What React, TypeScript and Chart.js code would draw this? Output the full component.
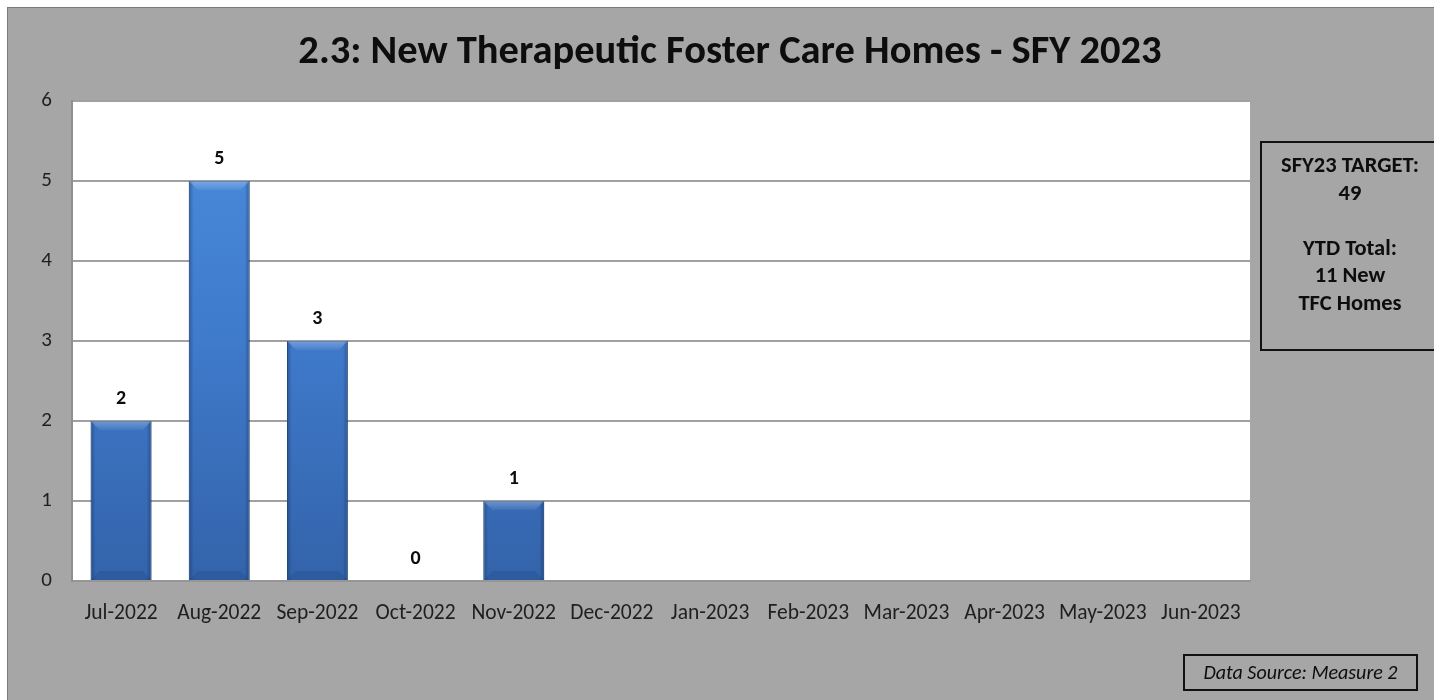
import React, { useEffect, useRef } from "react";
import { Chart, registerables } from "chart.js";

Chart.register(...registerables);

const categories = [
  "Jul-2022", "Aug-2022", "Sep-2022", "Oct-2022", "Nov-2022", "Dec-2022",
  "Jan-2023", "Feb-2023", "Mar-2023", "Apr-2023", "May-2023", "Jun-2023",
];
const newHomes: (number | null)[] = [2, 5, 3, 0, 1, null, null, null, null, null, null, null];
const yTicks = [0, 1, 2, 3, 4, 5, 6];
const titleText = "2.3: New Therapeutic Foster Care Homes - SFY 2023";
const targetLines = ["SFY23 TARGET:", "49", "", "YTD Total:", "11 New", "TFC Homes"];
const sourceText = "Data Source: Measure 2";

const FONT = "Carlito, Calibri, Lato, 'Open Sans', sans-serif";

export default function App() {
  const ref = useRef<HTMLCanvasElement | null>(null);

  useEffect(() => {
    const canvas = ref.current;
    if (!canvas) return;

    const plotBg = {
      id: "plotBg",
      beforeDraw(chart: any) {
        const { ctx, chartArea: a } = chart;
        ctx.save();
        ctx.fillStyle = "#ffffff";
        ctx.fillRect(a.left, a.top, a.right - a.left, a.bottom - a.top);
        ctx.restore();
      },
    };

    const titlePlugin = {
      id: "customTitle",
      afterDraw(chart: any) {
        const { ctx } = chart;
        ctx.save();
        ctx.font = `bold 40.5px ${FONT}`;
        ctx.fillStyle = "#0d0d0d";
        ctx.textAlign = "center";
        ctx.textBaseline = "alphabetic";
        ctx.fillText(titleText, 722, 55);
        ctx.restore();
      },
    };

    const barDeco = {
      id: "barDeco",
      afterDatasetsDraw(chart: any) {
        const { ctx } = chart;
        const meta = chart.getDatasetMeta(0);
        const ds = chart.data.datasets[0].data;
        ctx.save();
        meta.data.forEach((bar: any, i: number) => {
          const v = ds[i];
          if (v === null || v === undefined) return;
          const w = bar.width;
          const l = bar.x - w / 2;
          const r = bar.x + w / 2;
          const top = bar.y;
          const bottom = bar.base;
          if (bottom - top > 2) {
            const hg = ctx.createLinearGradient(l, 0, r, 0);
            hg.addColorStop(0, "rgba(10,30,70,0.35)");
            hg.addColorStop(0.08, "rgba(10,30,70,0.0)");
            hg.addColorStop(0.92, "rgba(10,30,70,0.0)");
            hg.addColorStop(1, "rgba(10,30,70,0.4)");
            ctx.fillStyle = hg;
            ctx.fillRect(l, top, w, bottom - top);
            const bh = Math.min(9, (bottom - top) / 2);
            const tg = ctx.createLinearGradient(0, top, 0, top + bh);
            tg.addColorStop(0, "rgba(255,255,255,0.28)");
            tg.addColorStop(1, "rgba(255,255,255,0.05)");
            ctx.beginPath();
            ctx.moveTo(l, top);
            ctx.lineTo(r, top);
            ctx.lineTo(r - bh, top + bh);
            ctx.lineTo(l + bh, top + bh);
            ctx.closePath();
            ctx.fillStyle = tg;
            ctx.fill();
            ctx.beginPath();
            ctx.moveTo(l, bottom);
            ctx.lineTo(r, bottom);
            ctx.lineTo(r - bh, bottom - bh);
            ctx.lineTo(l + bh, bottom - bh);
            ctx.closePath();
            ctx.fillStyle = "rgba(10,30,70,0.12)";
            ctx.fill();
          }
          ctx.font = `bold 20px ${FONT}`;
          ctx.fillStyle = "#0d0d0d";
          ctx.textAlign = "center";
          ctx.textBaseline = "middle";
          ctx.fillText(String(v), bar.x, top - 22);
        });
        ctx.restore();
      },
    };

    const chart = new Chart(canvas, {
      type: "bar",
      data: {
        labels: categories,
        datasets: [
          {
            label: "New TFC Homes",
            data: newHomes,
            backgroundColor: (c: any) => {
              const a = c.chart.chartArea;
              if (!a) return "#3b74c2";
              const g = c.chart.ctx.createLinearGradient(0, a.top, 0, a.bottom);
              g.addColorStop(0, "#4b8ddd");
              g.addColorStop(0.5, "#3f7acb");
              g.addColorStop(1, "#3363aa");
              return g;
            },
            borderColor: "#2f5c9c",
            borderWidth: 1,
            barPercentage: 0.62,
            categoryPercentage: 1,
          },
        ],
      },
      options: {
        animation: false,
        responsive: false,
        maintainAspectRatio: false,
        layout: { padding: { top: 93, right: 184, bottom: 0, left: 0 } },
        plugins: {
          legend: { display: false },
          tooltip: { enabled: false },
          title: { display: false },
        },
        scales: {
          x: {
            grid: { display: false, drawTicks: false },
            border: { display: true, color: "#969696", width: 2 },
            ticks: {
              font: { family: FONT, size: 21.5 },
              color: "#1f1f1f",
              padding: 20,
              maxRotation: 0,
              autoSkip: false,
            },
            afterFit(scale: any) {
              scale.height = 119;
            },
          },
          y: {
            min: 0,
            max: 6,
            afterBuildTicks(scale: any) {
              scale.ticks = yTicks.map((v) => ({ value: v }));
            },
            grid: { color: "#a0a0a0", lineWidth: 2, drawTicks: false },
            border: { display: true, color: "#8f8f8f", width: 2 },
            ticks: {
              font: { family: FONT, size: 21 },
              color: "#1f1f1f",
              padding: 20,
            },
            afterFit(scale: any) {
              scale.width = 64;
            },
          },
        },
      },
      plugins: [plotBg, barDeco, titlePlugin],
    });

    return () => chart.destroy();
  }, []);

  return (
    <>
      <style>{`html,body{overflow:hidden;}`}</style>
      <div
        style={{
          position: "absolute",
          left: 7,
          top: 7,
          width: 1432,
          height: 700,
          background: "#a6a6a6",
          borderLeft: "1px solid #7a7a7a",
          borderTop: "1px solid #7a7a7a",
        }}
      >
        <canvas
          ref={ref}
          width={1426}
          height={692}
          style={{ position: "absolute", left: 0, top: 0, width: 1426, height: 692 }}
        />
        <div
          style={{
            position: "absolute",
            left: 1252,
            top: 133,
            width: 180,
            height: 210,
            border: "2px solid #111",
            fontFamily: FONT,
            fontWeight: "bold",
            fontSize: 22.5,
            lineHeight: "27.5px",
            color: "#0d0d0d",
            textAlign: "center",
            paddingTop: 8,
            boxSizing: "border-box",
            whiteSpace: "nowrap",
          }}
        >
          {targetLines.map((t, i) => (
            <div key={i} style={{ height: 27.5 }}>
              {t}
            </div>
          ))}
        </div>
        <div
          style={{
            position: "absolute",
            left: 1175,
            top: 646,
            width: 235,
            height: 37,
            border: "2px solid #111",
            boxSizing: "border-box",
            fontFamily: FONT,
            fontStyle: "italic",
            fontSize: 20,
            lineHeight: "33px",
            color: "#0d0d0d",
            textAlign: "center",
            whiteSpace: "nowrap",
          }}
        >
          {sourceText}
        </div>
      </div>
    </>
  );
}
